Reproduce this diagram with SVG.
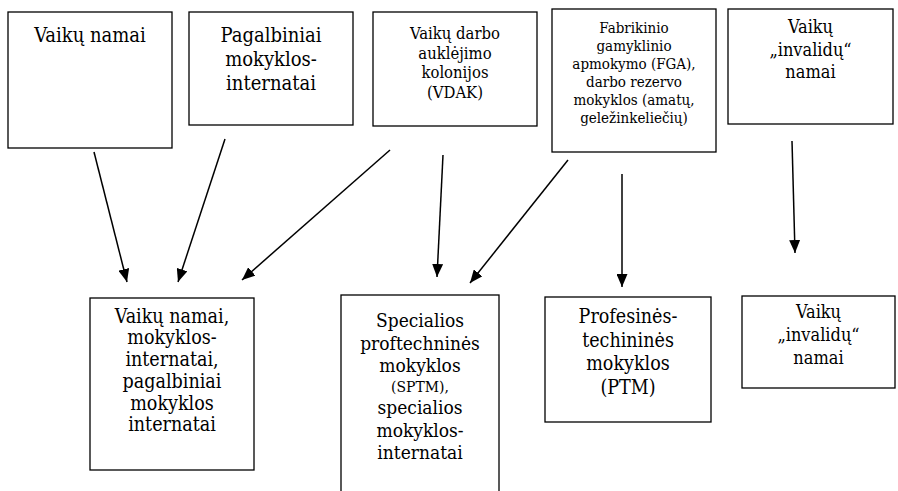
<svg xmlns="http://www.w3.org/2000/svg" width="898" height="491" viewBox="0 0 898 491">
<style>
.box{fill:#fff;stroke:#000;stroke-width:1.3}
.t{font-family:'DejaVu Serif Condensed','DejaVu Serif',serif;font-stretch:condensed;fill:#000;text-anchor:middle}
.c line{stroke:#000;stroke-width:1.5}
</style>
<defs>
<marker id="ah" markerUnits="userSpaceOnUse" markerWidth="13" markerHeight="11" refX="13" refY="5.5" orient="auto">
<path d="M0,0 L13,5.5 L0,11 z" fill="#000"/>
</marker>
</defs>
<rect width="898" height="491" fill="#fff"/>
<g id="n1"><rect class="box" x="8" y="12" width="164" height="136"/>
<text class="t" x="90" y="42" font-size="20">Vaikų namai</text></g>
<g id="n2"><rect class="box" x="189" y="12" width="164" height="113"/>
<text class="t" font-size="20"><tspan x="271" y="42">Pagalbiniai</tspan><tspan x="271" y="66">mokyklos-</tspan><tspan x="271" y="90">internatai</tspan></text></g>
<g id="n3"><rect class="box" x="373" y="12" width="164" height="114"/>
<text class="t" font-size="16.5"><tspan x="455" y="39">Vaikų darbo</tspan><tspan x="455" y="58.5">auklėjimo</tspan><tspan x="455" y="78">kolonijos</tspan><tspan x="455" y="97.5">(VDAK)</tspan></text></g>
<g id="n4"><rect class="box" x="552" y="9" width="164" height="143"/>
<text class="t" font-size="15"><tspan x="634" y="33">Fabrikinio</tspan><tspan x="634" y="51">gamyklinio</tspan><tspan x="634" y="69">apmokymo (FGA),</tspan><tspan x="634" y="87">darbo rezervo</tspan><tspan x="634" y="105">mokyklos (amatų,</tspan><tspan x="634" y="123">geležinkeliečių)</tspan></text></g>
<g id="n5"><rect class="box" x="728" y="9" width="165" height="115"/>
<text class="t" font-size="18"><tspan x="810.5" y="33">Vaikų</tspan><tspan x="810.5" y="55.5">„invalidų“</tspan><tspan x="810.5" y="78">namai</tspan></text></g>
<g id="n6"><rect class="box" x="90" y="298" width="164" height="172"/>
<text class="t" font-size="19.5"><tspan x="172" y="322.5">Vaikų namai,</tspan><tspan x="172" y="344">mokyklos-</tspan><tspan x="172" y="366">internatai,</tspan><tspan x="172" y="388">pagalbiniai</tspan><tspan x="172" y="409.5">mokyklos</tspan><tspan x="172" y="431">internatai</tspan></text></g>
<g id="n7"><rect class="box" x="341" y="295" width="158" height="210"/>
<text class="t" font-size="19"><tspan x="420" y="327">Specialios</tspan><tspan x="420" y="350">proftechninės</tspan><tspan x="420" y="372">mokyklos</tspan><tspan x="420" y="392" font-size="15.5">(SPTM),</tspan><tspan x="420" y="414">specialios</tspan><tspan x="420" y="437">mokyklos-</tspan><tspan x="420" y="459">internatai</tspan></text></g>
<g id="n8"><rect class="box" x="545" y="297" width="166" height="125"/>
<text class="t" font-size="19.5"><tspan x="628" y="323">Profesinės-</tspan><tspan x="628" y="347">techininės</tspan><tspan x="628" y="370">mokyklos</tspan><tspan x="628" y="394">(PTM)</tspan></text></g>
<g id="n9"><rect class="box" x="742" y="296" width="153" height="92"/>
<text class="t" font-size="18"><tspan x="818.5" y="318">Vaikų</tspan><tspan x="818.5" y="341">„invalidų“</tspan><tspan x="818.5" y="364">namai</tspan></text></g>
<g id="connectors" class="c">
<line x1="94" y1="152" x2="127" y2="282" marker-end="url(#ah)"/>
<line x1="225" y1="139" x2="178" y2="282" marker-end="url(#ah)"/>
<line x1="390" y1="150" x2="242" y2="280" marker-end="url(#ah)"/>
<line x1="443" y1="155" x2="437" y2="277" marker-end="url(#ah)"/>
<line x1="568" y1="160" x2="470" y2="283" marker-end="url(#ah)"/>
<line x1="622" y1="174" x2="622" y2="287" marker-end="url(#ah)"/>
<line x1="792" y1="141" x2="795" y2="253" marker-end="url(#ah)"/>
</g>
</svg>
